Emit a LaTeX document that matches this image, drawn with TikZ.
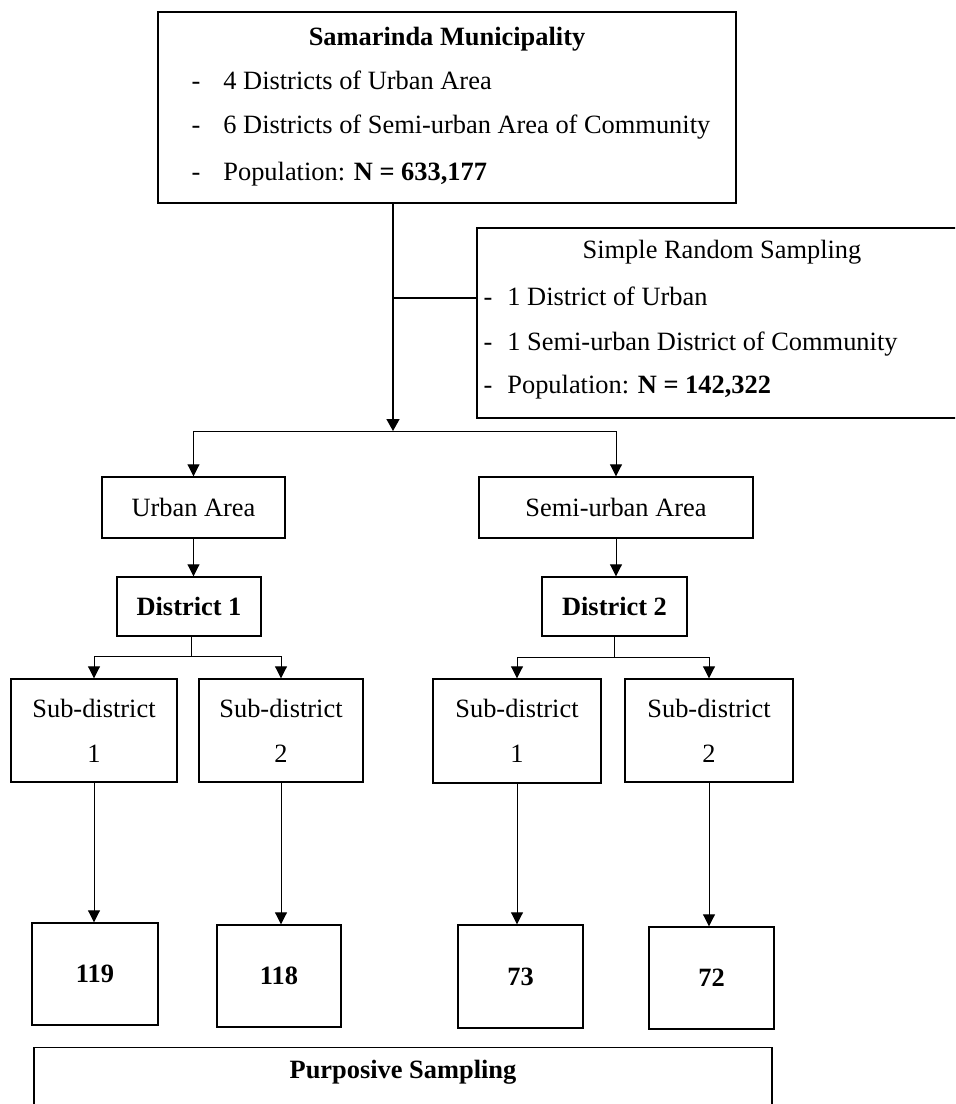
\documentclass[tikz,border=0pt]{standalone}
\usepackage{fontspec}
\setmainfont{Liberation Serif}
\usetikzlibrary{arrows.meta}

\begin{document}
\begin{tikzpicture}[x=0.5pt, y=-0.5pt,
	font=\fontsize{13.2pt}{15.8pt}\selectfont,
	box/.style={draw, line width=0.7pt, inner sep=0pt},
	txt/.style={inner sep=0pt, anchor=west, text height=0.7em, text depth=0.2em},
	ttl/.style={inner sep=0pt, text height=0.7em, text depth=0.2em},
	link/.style={line width=0.45pt},
	trunk/.style={line width=0.8pt},
	arr/.style={link, -{Triangle[width=6pt, length=6pt]}}]

	\useasboundingbox (0,0) rectangle (955,1104);
	\clip (0,0) rectangle (955,1104);

	\node[box, minimum width=289pt, minimum height=95.5pt] (M) at (447,107.5) {};
	\node[ttl] (Mt) at (447,40) {\textbf{Samarinda Municipality}};
	\node[ttl] (Md1) at (196,84) {-};
	\node[txt] (Ma) at (223,84) {4 Districts of Urban Area};
	\node[ttl] (Md2) at (196,128) {-};
	\node[txt] (Mb) at (223,128) {6 Districts of Semi-urban Area of Community};
	\node[ttl] (Md3) at (196,175) {-};
	\node[txt] (Mc) at (223,175) {Population: \textbf{N = 633,177}};

	\node[box, minimum width=243pt, minimum height=95pt] (R) at (720,323) {};
	\node[ttl] (Rt) at (722,253) {Simple Random Sampling};
	\node[ttl] (Rd1) at (488,300) {-};
	\node[txt] (Ra) at (507,300) {1 District of Urban};
	\node[ttl] (Rd2) at (488,345) {-};
	\node[txt] (Rb) at (507,345) {1 Semi-urban District of Community};
	\node[ttl] (Rd3) at (488,388) {-};
	\node[txt] (Rc) at (507,388) {Population: \textbf{N = 142,322}};

	\node[box, minimum width=91.5pt, minimum height=30.5pt] (U) at (193.5,507.5) {Urban Area};
	\node[box, minimum width=137pt, minimum height=30.5pt] (SU) at (616,507.5) {Semi-urban Area};
	\node[box, minimum width=72pt, minimum height=29.5pt] (D1) at (189,606.5) {\textbf{District 1}};
	\node[box, minimum width=72.5pt, minimum height=29.5pt] (D2) at (614.5,606.5) {\textbf{District 2}};

	\node[box, align=center, minimum width=83pt, minimum height=51.5pt] (S11) at (94,730.5) {Sub-district\\[6.7pt]1};
	\node[box, align=center, minimum width=82pt, minimum height=51.5pt] (S12) at (281,730.5) {Sub-district\\[6.7pt]2};
	\node[box, align=center, minimum width=84pt, minimum height=52pt] (S21) at (517,731) {Sub-district\\[6.7pt]1};
	\node[box, align=center, minimum width=84pt, minimum height=51.5pt] (S22) at (709,730.5) {Sub-district\\[6.7pt]2};

	\node[box, minimum width=63pt, minimum height=51pt] (N11) at (95,974) {\textbf{119}};
	\node[box, minimum width=62pt, minimum height=51pt] (N12) at (279,976) {\textbf{118}};
	\node[box, minimum width=62.5pt, minimum height=51.5pt] (N21) at (520.5,976.5) {\textbf{73}};
	\node[box, minimum width=62.5pt, minimum height=51pt] (N22) at (711.5,978) {\textbf{72}};

	\node[box, minimum width=369pt, minimum height=60pt, anchor=north] (P) at (403,1047) {};
	\node[ttl] (Pt) at (403,1073) {\textbf{Purposive Sampling}};

	\coordinate (joint) at (393,298);
	\coordinate (split) at (393,431);
	\coordinate (forkA) at (191,656);
	\coordinate (forkB) at (614,657);

	\draw[trunk, -{Triangle[width=6.5pt, length=6pt]}] (M.south -| split) -- (split);
	\draw[trunk] (joint) -- (joint -| R.west);
	\draw[link] (U.north |- split) -- (SU.north |- split);
	\draw[arr] (U.north |- split) -- (U.north);
	\draw[arr] (SU.north |- split) -- (SU.north);

	\draw[arr] (U.south) -- (U.south |- D1.north);
	\draw[arr] (SU.south) -- (SU.south |- D2.north);

	\draw[link] (D1.south -| forkA) -- (forkA);
	\draw[link] (S11.north |- forkA) -- (S12.north |- forkA);
	\draw[arr] (S11.north |- forkA) -- (S11.north);
	\draw[arr] (S12.north |- forkA) -- (S12.north);
	\draw[link] (D2.south -| forkB) -- (forkB);
	\draw[link] (S21.north |- forkB) -- (S22.north |- forkB);
	\draw[arr] (S21.north |- forkB) -- (S21.north);
	\draw[arr] (S22.north |- forkB) -- (S22.north);

	\draw[arr] (S11.south) -- (S11.south |- N11.north);
	\draw[arr] (S12.south) -- (S12.south |- N12.north);
	\draw[arr] (S21.south) -- (S21.south |- N21.north);
	\draw[arr] (S22.south) -- (S22.south |- N22.north);
\end{tikzpicture}
\end{document}
